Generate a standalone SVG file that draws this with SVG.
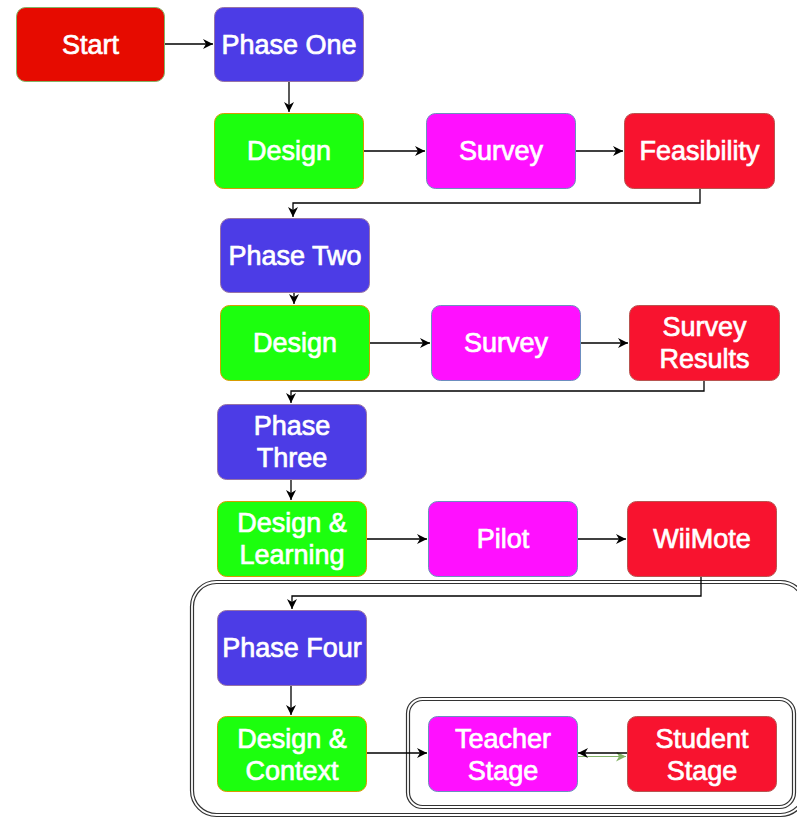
<svg xmlns="http://www.w3.org/2000/svg" width="797" height="818" viewBox="0 0 797 818">
<style>
.t{font-family:"Liberation Sans",Arial,sans-serif;font-size:27px;fill:#fff;text-anchor:middle;dominant-baseline:central;stroke:#fff;stroke-width:0.7}
.red{fill:#E60B00;stroke:#82b366}
.blue{fill:#4C3CE6;stroke:#9673a6}
.green{fill:#1CFF0E;stroke:#d79b00}
.mag{fill:#FF10FF;stroke:#6c8ebf}
.crim{fill:#F8132F;stroke:#b85450}
.c{fill:none;stroke:#000;stroke-width:1.3}
.box{fill:none;stroke:#333;stroke-width:1.2}
</style>
<defs>
<marker id="a" viewBox="0 0 10 10" refX="10" refY="5" markerWidth="10" markerHeight="10" markerUnits="userSpaceOnUse" orient="auto"><path d="M0,0 L10,5 L0,10 L3,5 z" fill="#000"/></marker>
<marker id="ab" viewBox="0 0 10 10" refX="10" refY="5" markerWidth="10" markerHeight="10" markerUnits="userSpaceOnUse" orient="auto-start-reverse"><path d="M0,0 L10,5 L0,10 L3,5 z" fill="#000"/></marker>
<marker id="ag" viewBox="0 0 10 10" refX="10" refY="5" markerWidth="10" markerHeight="10" markerUnits="userSpaceOnUse" orient="auto"><path d="M0,0 L10,5 L0,10 L3,5 z" fill="#82b366"/></marker>
</defs>
<g id="container-outer">
<rect class="box" x="190.5" y="580.5" width="616" height="236" rx="26"/>
<rect class="box" x="193.5" y="583.5" width="610" height="230" rx="23"/>
</g>
<g id="container-inner">
<rect class="box" x="406.5" y="697.5" width="389" height="111" rx="16"/>
<rect class="box" x="409.5" y="700.5" width="383" height="105" rx="13"/>
</g>
<g id="connectors">
<path class="c" d="M164,44 H213" marker-end="url(#a)"/>
<path class="c" d="M289,81 V112" marker-end="url(#a)"/>
<path class="c" d="M363,151 H425" marker-end="url(#a)"/>
<path class="c" d="M575,151 H623" marker-end="url(#a)"/>
<path class="c" d="M700,188 V203 H293 V217" marker-end="url(#a)"/>
<path class="c" d="M294,292 V304" marker-end="url(#a)"/>
<path class="c" d="M369,343 H430" marker-end="url(#a)"/>
<path class="c" d="M580,343 H628" marker-end="url(#a)"/>
<path class="c" d="M704,380 V391 H291 V403" marker-end="url(#a)"/>
<path class="c" d="M291,479 V500" marker-end="url(#a)"/>
<path class="c" d="M366,539 H427" marker-end="url(#a)"/>
<path class="c" d="M577,539 H626" marker-end="url(#a)"/>
<path class="c" d="M701,576 V596 H292 V609" marker-end="url(#a)"/>
<path class="c" d="M291,685 V715" marker-end="url(#a)"/>
<path class="c" d="M366,753 H427" marker-end="url(#a)"/>
<path d="M578,756.5 H626" fill="none" stroke="#82b366" stroke-width="1" marker-end="url(#ag)"/>
<path class="c" d="M578,753 H627" marker-start="url(#ab)"/>
</g>
<g id="start"><rect class="red" x="16.5" y="7.5" width="148" height="74" rx="9"/><text class="t" x="90.5" y="44.5">Start</text></g>
<g id="phase-one"><rect class="blue" x="214.5" y="7.5" width="149" height="74" rx="9"/><text class="t" x="289" y="44.5">Phase One</text></g>
<g id="design-1"><rect class="green" x="214.5" y="113.5" width="149" height="75" rx="9"/><text class="t" x="289" y="151">Design</text></g>
<g id="survey-1"><rect class="mag" x="426.5" y="113.5" width="149" height="75" rx="9"/><text class="t" x="501" y="151">Survey</text></g>
<g id="feasibility"><rect class="crim" x="624.5" y="113.5" width="150" height="75" rx="9"/><text class="t" x="699.5" y="151">Feasibility</text></g>
<g id="phase-two"><rect class="blue" x="220.5" y="218.5" width="149" height="74" rx="9"/><text class="t" x="295" y="255.5">Phase Two</text></g>
<g id="design-2"><rect class="green" x="220.5" y="305.5" width="149" height="75" rx="9"/><text class="t" x="295" y="343">Design</text></g>
<g id="survey-2"><rect class="mag" x="431.5" y="305.5" width="149" height="75" rx="9"/><text class="t" x="506" y="343">Survey</text></g>
<g id="survey-results"><rect class="crim" x="629.5" y="305.5" width="150" height="75" rx="9"/><text class="t" x="704.5" y="327">Survey</text><text class="t" x="704.5" y="358.5">Results</text></g>
<g id="phase-three"><rect class="blue" x="217.5" y="404.5" width="149" height="75" rx="9"/><text class="t" x="292" y="426">Phase</text><text class="t" x="292" y="458">Three</text></g>
<g id="design-learning"><rect class="green" x="217.5" y="501.5" width="149" height="75" rx="9"/><text class="t" x="292" y="523">Design &amp;</text><text class="t" x="292" y="555">Learning</text></g>
<g id="pilot"><rect class="mag" x="428.5" y="501.5" width="149" height="75" rx="9"/><text class="t" x="503" y="539">Pilot</text></g>
<g id="wiimote"><rect class="crim" x="627.5" y="501.5" width="149" height="75" rx="9"/><text class="t" x="702" y="539">WiiMote</text></g>
<g id="phase-four"><rect class="blue" x="217.5" y="610.5" width="149" height="75" rx="9"/><text class="t" x="292" y="647.5">Phase Four</text></g>
<g id="design-context"><rect class="green" x="217.5" y="716.5" width="149" height="75" rx="9"/><text class="t" x="292" y="738.5">Design &amp;</text><text class="t" x="292" y="770.5">Context</text></g>
<g id="teacher-stage"><rect class="mag" x="428.5" y="716.5" width="149" height="75" rx="9"/><text class="t" x="503" y="738.5">Teacher</text><text class="t" x="503" y="770.5">Stage</text></g>
<g id="student-stage"><rect class="crim" x="627.5" y="716.5" width="149" height="75" rx="9"/><text class="t" x="702" y="738.5">Student</text><text class="t" x="702" y="770.5">Stage</text></g>
</svg>
